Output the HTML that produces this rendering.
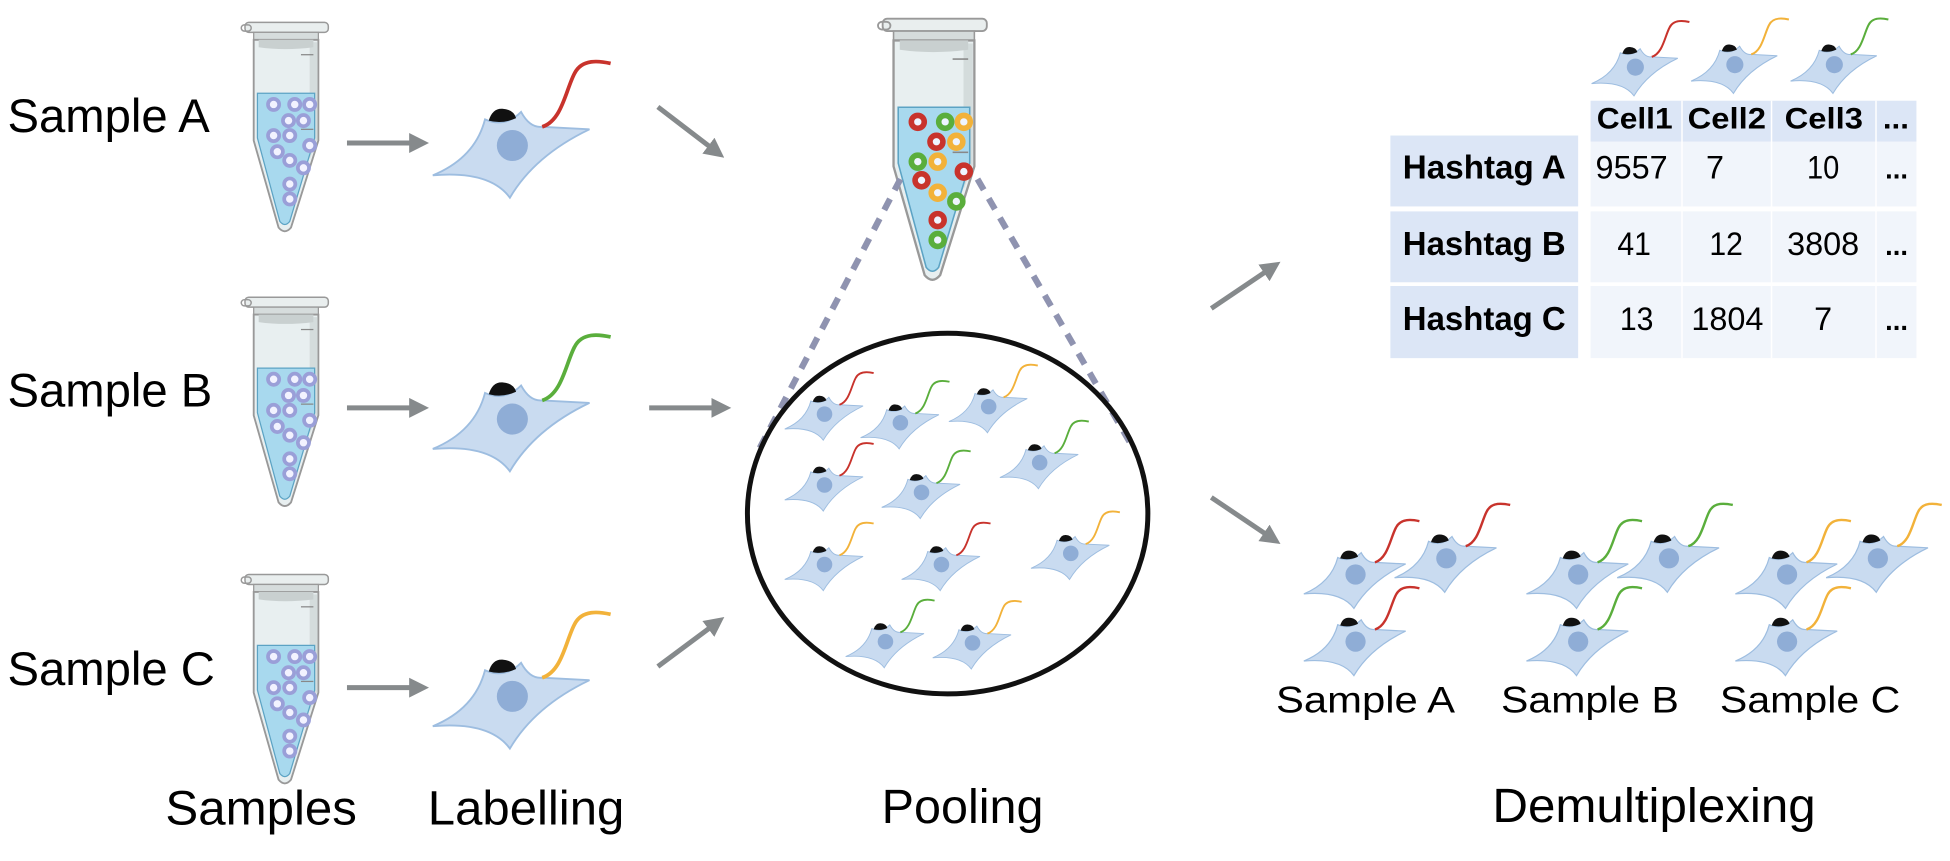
<!DOCTYPE html>
<html><head><meta charset="utf-8"><style>
html,body{margin:0;padding:0;background:#fff;}
svg{display:block;}
text{font-family:"Liberation Sans",Arial,sans-serif;fill:#000;}
</style></head><body>
<svg width="1950" height="861" viewBox="0 0 1568 692.4" preserveAspectRatio="none" xmlns="http://www.w3.org/2000/svg">
<defs>
<g id="cb">
<path d="M-64,24 Q-30,10 -22,-21 Q-6,-14 7,-27 Q14,-14 24,-15 L62,-13 Q18,8 -2,42 Q-18,20 -64,24 Z" fill="#c9dbf0" stroke="#9dbde0" stroke-width="1.5"/>
<ellipse cx="0" cy="0" rx="12.5" ry="12.5" fill="#8fadd6"/>
<path d="M-19,-20 Q-16,-30 -8,-29.5 Q1,-29 3,-22 Q-8,-17 -19,-20 Z" fill="#111"/>
</g>
<path id="tag" d="M24,-15 C40,-20 43,-45 50,-58 C56,-70 70,-68 79,-66" fill="none" stroke-width="3"/>
<g id="tube">
<rect x="3" y="0" width="67" height="8" rx="3" fill="#e9eeee" stroke="#999" stroke-width="1.2"/>
<rect x="0" y="2" width="8" height="5" rx="2.5" fill="none" stroke="#999" stroke-width="1.2"/>
<rect x="10" y="8" width="52" height="6" fill="#d6dcdc" stroke="#999" stroke-width="1"/>
<path d="M10,14 L62,14 L62,95 L40,165 Q35,171 30,165 L10,95 Z" fill="#e8eff0" stroke="#999" stroke-width="1.5"/>
<path d="M55,16 L61,16 L61,94 L55,110 Z" fill="#d4dcdc"/>
<path d="M14,14 L58,14 L58,20 Q35,23 14,20 Z" fill="#c9d0d0"/>
<path d="M13,57 L59,57 L59,93 L39,160 Q35,165 31,160 L13,93 Z" fill="#a8d9ee" stroke="#5ca3c4" stroke-width="1"/>
<line x1="48" y1="26" x2="58" y2="26" stroke="#888" stroke-width="1"/>
<line x1="48" y1="86" x2="58" y2="86" stroke="#888" stroke-width="1"/>
</g>
<g id="rings" fill="#f2f2ff" stroke="#9a9fd8" stroke-width="3">
<circle cx="26" cy="66" r="4.5"/><circle cx="43" cy="66" r="4.5"/><circle cx="55" cy="66" r="4.5"/>
<circle cx="38" cy="79" r="4.5"/><circle cx="50" cy="79" r="4.5"/><circle cx="26" cy="91" r="4.5"/>
<circle cx="39" cy="91" r="4.5"/><circle cx="55" cy="99" r="4.5"/><circle cx="29" cy="104" r="4.5"/>
<circle cx="39" cy="111" r="4.5"/><circle cx="50" cy="117" r="4.5"/><circle cx="39" cy="130" r="4.5"/>
<circle cx="39" cy="142" r="4.5"/>
</g>
<marker id="ah" markerWidth="4" markerHeight="4" refX="2" refY="2" orient="auto" markerUnits="strokeWidth">
<path d="M0,0 L4,2 L0,4 Z" fill="#868a8c"/>
</marker>
</defs>

<text x="6" y="106" font-size="38">Sample A</text>
<text x="6" y="327" font-size="38">Sample B</text>
<text x="6" y="551" font-size="38">Sample C</text>

<g transform="translate(194,18)"><use href="#tube"/><use href="#rings"/></g>
<g transform="translate(194,239)"><use href="#tube"/><use href="#rings"/></g>
<g transform="translate(194,462)"><use href="#tube"/><use href="#rings"/></g>

<g stroke="#868a8c" stroke-width="4" fill="none" marker-end="url(#ah)">
<line x1="279" y1="115" x2="337" y2="115"/>
<line x1="279" y1="328" x2="337" y2="328"/>
<line x1="279" y1="553" x2="337" y2="553"/>
<line x1="529" y1="86" x2="576" y2="122"/>
<line x1="522" y1="328" x2="580" y2="328"/>
<line x1="529" y1="536" x2="576" y2="501"/>
<line x1="974" y1="248" x2="1023" y2="215"/>
<line x1="974" y1="400" x2="1023" y2="433"/>
</g>

<g transform="translate(412,117)"><use href="#cb"/><use href="#tag" stroke="#c8332c"/></g>
<g transform="translate(412,337)"><use href="#cb"/><use href="#tag" stroke="#5aae3c"/></g>
<g transform="translate(412,560)"><use href="#cb"/><use href="#tag" stroke="#f2b23a"/></g>

<g transform="translate(706,15) scale(1.25)"><use href="#tube"/></g>
<g fill="#eef4ff" stroke-width="4.5">
<circle cx="738" cy="98" r="5.2" stroke="#c8332c"/><circle cx="760" cy="98" r="5.2" stroke="#5aae3c"/><circle cx="775" cy="98" r="5.2" stroke="#f2b23a"/>
<circle cx="753" cy="114" r="5.2" stroke="#c8332c"/><circle cx="769" cy="114" r="5.2" stroke="#f2b23a"/>
<circle cx="738" cy="130" r="5.2" stroke="#5aae3c"/><circle cx="754" cy="130" r="5.2" stroke="#f2b23a"/>
<circle cx="775" cy="138" r="5.2" stroke="#c8332c"/><circle cx="741" cy="145" r="5.2" stroke="#c8332c"/>
<circle cx="754" cy="155" r="5.2" stroke="#f2b23a"/><circle cx="769" cy="162" r="5.2" stroke="#5aae3c"/>
<circle cx="754" cy="177" r="5.2" stroke="#c8332c"/><circle cx="754" cy="193" r="5.2" stroke="#5aae3c"/>
</g>

<g stroke="#8f93b0" stroke-width="5" stroke-dasharray="10 8">
<line x1="724" y1="144" x2="610" y2="362"/>
<line x1="786" y1="144" x2="911" y2="360"/>
</g>
<ellipse cx="762" cy="413" rx="161" ry="145" fill="none" stroke="#111" stroke-width="4"/>

<g transform="translate(663,333) scale(0.5)"><use href="#cb"/><use href="#tag" stroke="#c8332c"/></g>
<g transform="translate(724,340) scale(0.5)"><use href="#cb"/><use href="#tag" stroke="#5aae3c"/></g>
<g transform="translate(795,327) scale(0.5)"><use href="#cb"/><use href="#tag" stroke="#f2b23a"/></g>
<g transform="translate(663,390) scale(0.5)"><use href="#cb"/><use href="#tag" stroke="#c8332c"/></g>
<g transform="translate(741,396) scale(0.5)"><use href="#cb"/><use href="#tag" stroke="#5aae3c"/></g>
<g transform="translate(836,372) scale(0.5)"><use href="#cb"/><use href="#tag" stroke="#5aae3c"/></g>
<g transform="translate(663,454) scale(0.5)"><use href="#cb"/><use href="#tag" stroke="#f2b23a"/></g>
<g transform="translate(757,454) scale(0.5)"><use href="#cb"/><use href="#tag" stroke="#c8332c"/></g>
<g transform="translate(861,445) scale(0.5)"><use href="#cb"/><use href="#tag" stroke="#f2b23a"/></g>
<g transform="translate(712,516) scale(0.5)"><use href="#cb"/><use href="#tag" stroke="#5aae3c"/></g>
<g transform="translate(782,517) scale(0.5)"><use href="#cb"/><use href="#tag" stroke="#f2b23a"/></g>

<g transform="translate(1315,54) scale(0.55)"><use href="#cb"/><use href="#tag" stroke="#c8332c"/></g>
<g transform="translate(1395,52) scale(0.55)"><use href="#cb"/><use href="#tag" stroke="#f2b23a"/></g>
<g transform="translate(1475,52) scale(0.55)"><use href="#cb"/><use href="#tag" stroke="#5aae3c"/></g>

<rect x="1279" y="81" width="262" height="33" fill="#dce6f6"/>
<rect x="1118" y="109" width="151" height="57" fill="#dce6f6"/>
<rect x="1118" y="170" width="151" height="57" fill="#dce6f6"/>
<rect x="1118" y="230" width="151" height="58" fill="#dce6f6"/>
<rect x="1279" y="114" width="262" height="52" fill="#f1f5fb"/>
<rect x="1279" y="170" width="262" height="57" fill="#f1f5fb"/>
<rect x="1279" y="230" width="262" height="58" fill="#f1f5fb"/>
<g stroke="#fff" stroke-width="1.2">
<line x1="1352.5" y1="81" x2="1352.5" y2="288"/><line x1="1424.5" y1="81" x2="1424.5" y2="288"/><line x1="1508.5" y1="81" x2="1508.5" y2="288"/>
</g>
<g font-weight="bold" font-size="24">
<text x="1284" y="103.5" textLength="61" lengthAdjust="spacingAndGlyphs">Cell1</text>
<text x="1357" y="103.5" textLength="63" lengthAdjust="spacingAndGlyphs">Cell2</text>
<text x="1435" y="103.5" textLength="63" lengthAdjust="spacingAndGlyphs">Cell3</text>
<text x="1514" y="103.5" textLength="21" lengthAdjust="spacingAndGlyphs">...</text>
<text x="1128" y="143.5" font-size="27" textLength="131" lengthAdjust="spacingAndGlyphs">Hashtag A</text>
<text x="1128" y="205" font-size="27" textLength="131" lengthAdjust="spacingAndGlyphs">Hashtag B</text>
<text x="1128" y="265.5" font-size="27" textLength="131" lengthAdjust="spacingAndGlyphs">Hashtag C</text>
</g>
<g font-size="26" text-anchor="middle">
<text x="1312" y="143.5" textLength="58" lengthAdjust="spacingAndGlyphs">9557</text>
<text x="1379" y="143.5">7</text>
<text x="1466" y="143.5" textLength="26" lengthAdjust="spacingAndGlyphs">10</text>
<text x="1525" y="143.5" font-weight="bold" font-size="22">...</text>
<text x="1314" y="205" textLength="27" lengthAdjust="spacingAndGlyphs">41</text>
<text x="1388" y="205" textLength="27" lengthAdjust="spacingAndGlyphs">12</text>
<text x="1466" y="205" textLength="58" lengthAdjust="spacingAndGlyphs">3808</text>
<text x="1525" y="205" font-weight="bold" font-size="22">...</text>
<text x="1316" y="265.5" textLength="27" lengthAdjust="spacingAndGlyphs">13</text>
<text x="1389" y="265.5" textLength="58" lengthAdjust="spacingAndGlyphs">1804</text>
<text x="1466" y="265.5">7</text>
<text x="1525" y="265.5" font-weight="bold" font-size="22">...</text>
</g>

<g transform="translate(1163,449) scale(0.65)"><use href="#cb"/><use href="#tag" stroke="#c8332c"/></g>
<g transform="translate(1090,462) scale(0.65)"><use href="#cb"/><use href="#tag" stroke="#c8332c"/></g>
<g transform="translate(1090,516) scale(0.65)"><use href="#cb"/><use href="#tag" stroke="#c8332c"/></g>
<g transform="translate(1342,449) scale(0.65)"><use href="#cb"/><use href="#tag" stroke="#5aae3c"/></g>
<g transform="translate(1269,462) scale(0.65)"><use href="#cb"/><use href="#tag" stroke="#5aae3c"/></g>
<g transform="translate(1269,516) scale(0.65)"><use href="#cb"/><use href="#tag" stroke="#5aae3c"/></g>
<g transform="translate(1510,449) scale(0.65)"><use href="#cb"/><use href="#tag" stroke="#f2b23a"/></g>
<g transform="translate(1437,462) scale(0.65)"><use href="#cb"/><use href="#tag" stroke="#f2b23a"/></g>
<g transform="translate(1437,516) scale(0.65)"><use href="#cb"/><use href="#tag" stroke="#f2b23a"/></g>

<g font-size="30">
<text x="1026" y="573" textLength="144" lengthAdjust="spacingAndGlyphs">Sample A</text>
<text x="1207" y="573" textLength="143" lengthAdjust="spacingAndGlyphs">Sample B</text>
<text x="1383" y="573" textLength="145" lengthAdjust="spacingAndGlyphs">Sample C</text>
</g>

<text x="133" y="663" font-size="39" textLength="154" lengthAdjust="spacingAndGlyphs">Samples</text>
<text x="344" y="663" font-size="39" textLength="158" lengthAdjust="spacingAndGlyphs">Labelling</text>
<text x="774" y="662" font-size="39" text-anchor="middle">Pooling</text>
<text x="1200" y="661" font-size="39" textLength="260" lengthAdjust="spacingAndGlyphs">Demultiplexing</text>
</svg>
</body></html>
